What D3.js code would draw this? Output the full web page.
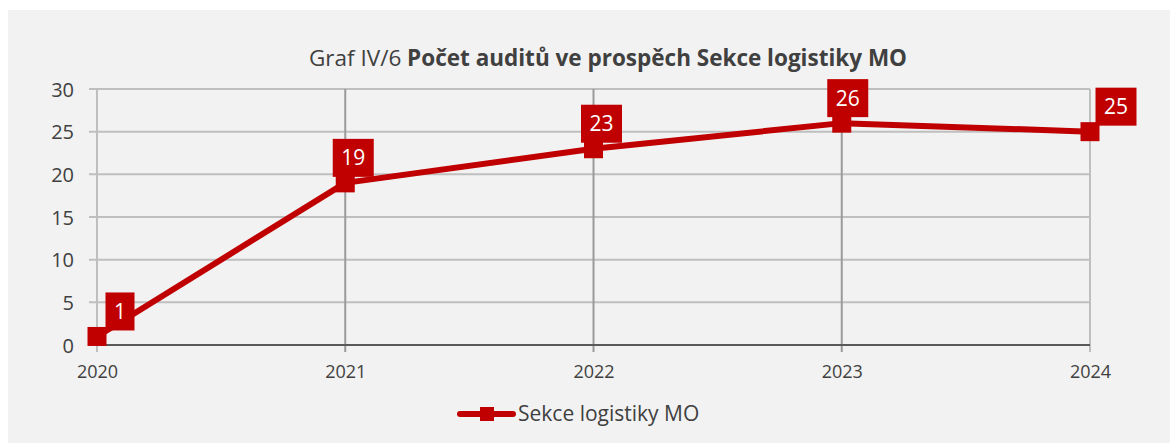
<!DOCTYPE html>
<html>

<head>
    <meta charset="utf-8">
    <title>Graf IV/6</title>
    <script type="text/javascript" src="https://cdnjs.cloudflare.com/ajax/libs/d3/7.8.5/d3.min.js"></script>
    <style>
        body {
            margin: 0;
            background: #ffffff;
        }

        svg text {
            font-family: "Open Sans", "Noto Sans", sans-serif;
        }

        .grid line {
            stroke: #bfbfbf;
            stroke-width: 2px;
        }

        .vgrid line {
            stroke: #9a9a9a;
            stroke-width: 2px;
        }

        .axis text {
            fill: #404040;
        }
    </style>
</head>

<body>
    <div id="chart"></div>

    <script type="text/javascript">
        // data
        const years = ["2020", "2021", "2022", "2023", "2024"]
        const audits = [1, 19, 23, 26, 25]
        const yTicks = [0, 5, 10, 15, 20, 25, 30]
        const seriesName = "Sekce logistiky MO"
        // horizontal shift of each value label box (Excel pushes the end ones aside)
        const labelShift = [23, 8, 8, 6, 26]

        var width = 1170, height = 443
            , margin = { top: 89, bottom: 98, left: 97, right: 80 }
            , red = "#c00000"

        var svg = d3.select("#chart").append("svg")
            .attr("width", width)
            .attr("height", height)

        svg.append("rect")
            .attr("x", 8)
            .attr("y", 10)
            .attr("width", width - 8)
            .attr("height", height - 10)
            .attr("fill", "#f2f2f2")

        var x = d3.scalePoint()
            .domain(years)
            .range([margin.left, width - margin.right])

        var y = d3.scaleLinear()
            .domain([0, 30])
            .range([height - margin.bottom, margin.top])

        // title
        var title = svg.append("text")
            .attr("x", 608)
            .attr("y", 66)
            .attr("text-anchor", "middle")
            .style("font-size", "22.5px")
            .attr("fill", "#404040")
        title.append("tspan").text("Graf IV/6 ")
        title.append("tspan").attr("font-weight", "bold").text("Počet auditů ve prospěch Sekce logistiky MO")

        // horizontal grid
        svg.append("g")
            .attr("class", "grid")
            .selectAll("line")
            .data(yTicks.slice(1))
            .enter()
            .append("line")
            .attr("x1", margin.left - 8)
            .attr("x2", x("2024"))
            .attr("y1", d => y(d))
            .attr("y2", d => y(d))

        // vertical grid at categories
        svg.append("g")
            .attr("class", "vgrid")
            .selectAll("line")
            .data(years.slice(1))
            .enter()
            .append("line")
            .attr("x1", d => x(d))
            .attr("x2", d => x(d))
            .attr("y1", y(30))
            .attr("y2", y(0) + 7)
            .style("stroke", d => d === "2024" ? "#bfbfbf" : null)

        // left axis line
        svg.append("line")
            .attr("x1", margin.left).attr("x2", margin.left)
            .attr("y1", y(30)).attr("y2", y(0) + 7)
            .attr("stroke", "#bfbfbf").attr("stroke-width", 2)

        // y axis labels
        var yAxis = d3.axisLeft(y).tickValues(yTicks).tickSize(0).tickPadding(23)
        svg.append("g")
            .attr("class", "axis")
            .attr("transform", "translate(" + margin.left + ",0)")
            .call(yAxis)
            .call(g => g.select(".domain").remove())
            .selectAll("text")
            .style("font-size", "20px")
            .attr("dy", "0.35em")

        // bottom axis
        var xAxis = d3.axisBottom(x).tickSize(0).tickPadding(20)
        svg.append("g")
            .attr("class", "axis")
            .attr("transform", "translate(0," + y(0) + ")")
            .call(xAxis)
            .call(g => g.select(".domain").remove())
            .selectAll("text")
            .style("font-size", "18px")

        svg.append("line")
            .attr("x1", margin.left).attr("x2", x("2024"))
            .attr("y1", y(0)).attr("y2", y(0))
            .attr("stroke", "#595959").attr("stroke-width", 2)

        var data = years.map((d, i) => ({ year: d, value: audits[i], shift: labelShift[i] }))

        // line
        var line = d3.line()
            .x(d => x(d.year))
            .y(d => y(d.value))

        svg.append("path")
            .datum(data)
            .attr("d", line)
            .attr("fill", "none")
            .attr("stroke", red)
            .attr("stroke-width", 6)
            .attr("stroke-linejoin", "round")

        // markers
        svg.append("g")
            .selectAll("rect")
            .data(data)
            .enter()
            .append("rect")
            .attr("x", d => x(d.year) - 9.5)
            .attr("y", d => y(d.value) - 9.5)
            .attr("width", 19)
            .attr("height", 19)
            .attr("fill", red)

        // value labels
        var labels = svg.append("g")
            .selectAll("g")
            .data(data)
            .enter()
            .append("g")
            .attr("transform", d => "translate(" + (x(d.year) + d.shift) + "," + (y(d.value) - 25) + ")")

        labels.append("rect")
            .attr("x", d => d.value < 10 ? -14.5 : -20.5)
            .attr("y", -19)
            .attr("width", d => d.value < 10 ? 29 : 41)
            .attr("height", 38)
            .attr("fill", red)

        labels.append("text")
            .attr("text-anchor", "middle")
            .attr("dy", "0.36em")
            .style("font-size", "21px")
            .attr("fill", "#ffffff")
            .text(d => d.value)

        // legend
        var legend = svg.append("g")
            .attr("transform", "translate(458,414)")

        legend.append("line")
            .attr("x1", 2).attr("x2", 55)
            .attr("stroke", red)
            .attr("stroke-width", 6)
            .attr("stroke-linecap", "round")

        legend.append("rect")
            .attr("x", 22).attr("y", -7)
            .attr("width", 14).attr("height", 14)
            .attr("fill", red)

        legend.append("text")
            .attr("x", 60)
            .attr("dy", "0.35em")
            .style("font-size", "21px")
            .attr("fill", "#404040")
            .text(seriesName)
    </script>
</body>

</html>
